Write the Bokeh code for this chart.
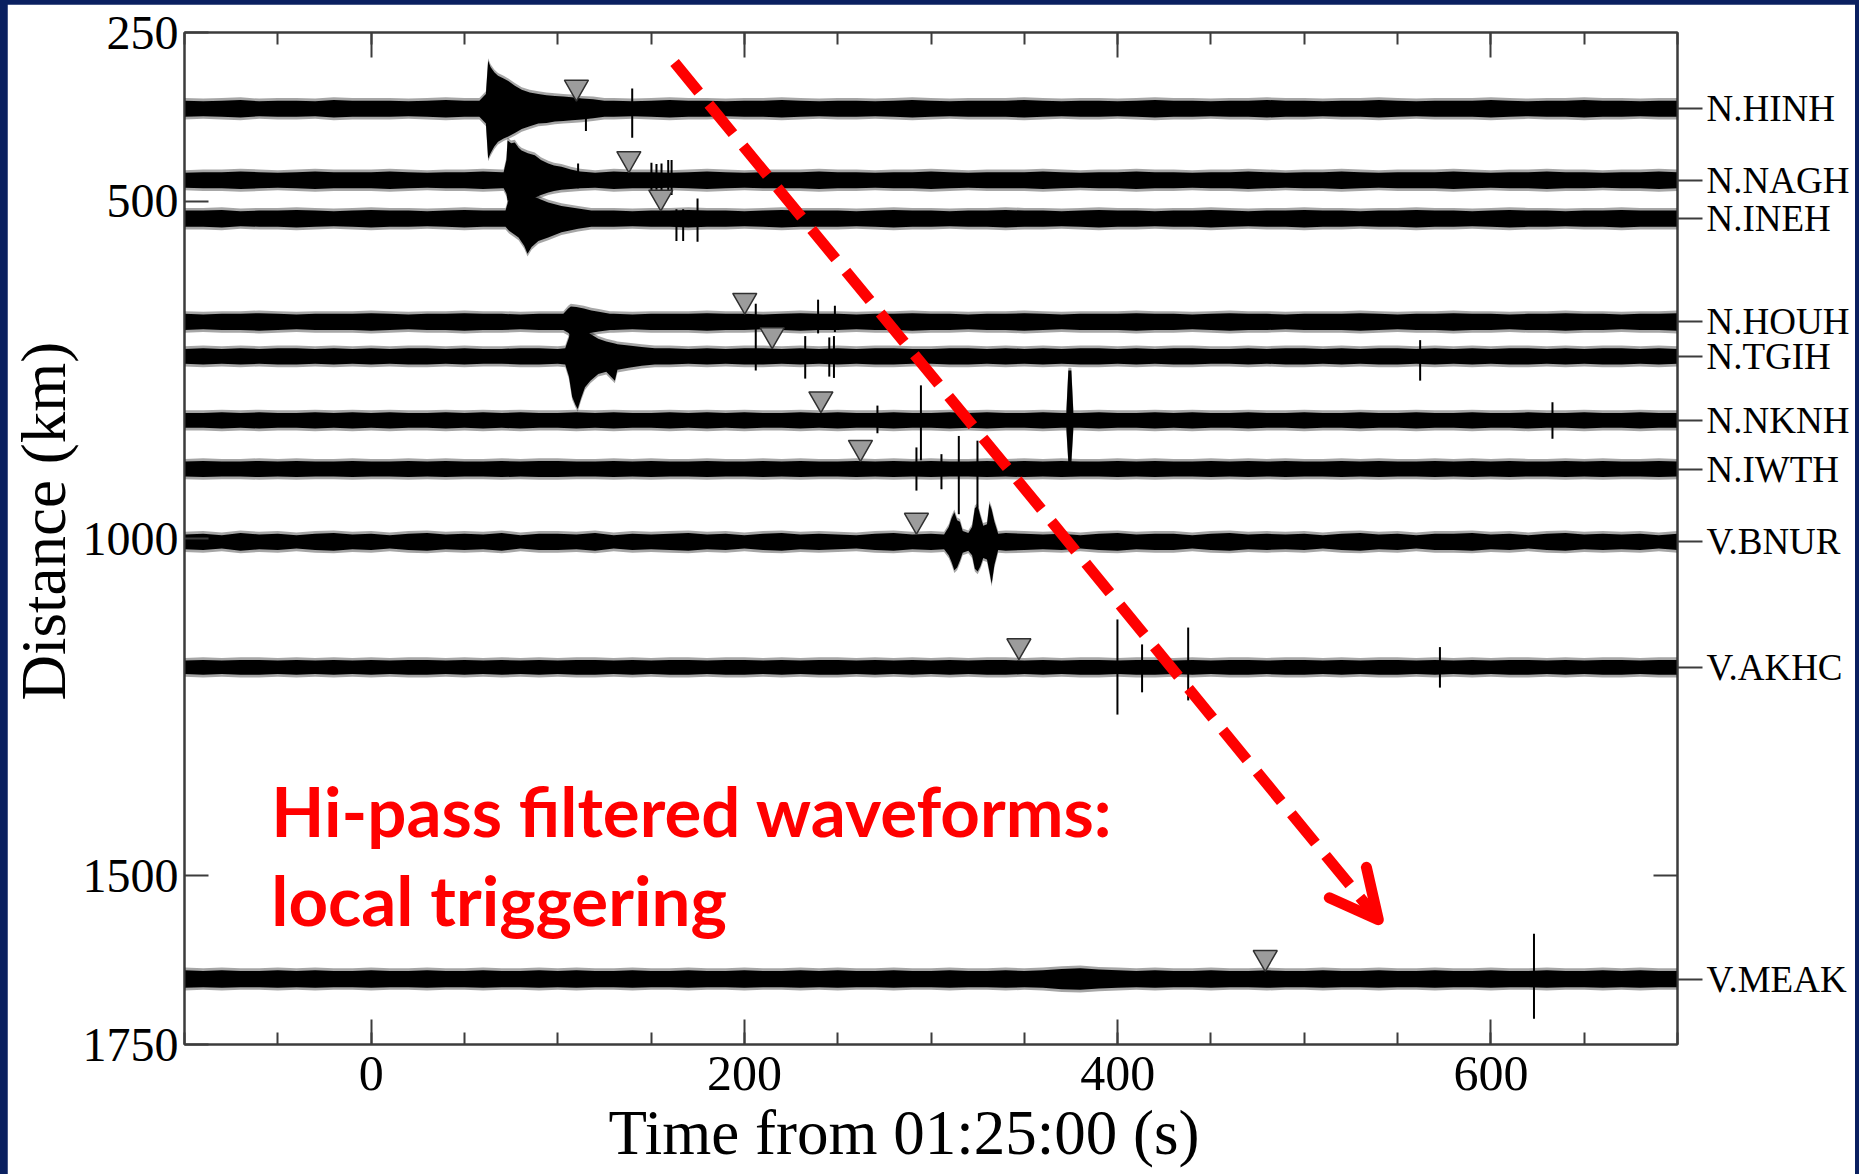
from bokeh.plotting import figure
from bokeh.models import (Range1d, LinearAxis, FixedTicker, SingleIntervalTicker,
                          Arrow, OpenHead, Label, Title, CustomJSTickFormatter)
from bokeh.layouts import column
from bokeh.embed import file_html
from bokeh.resources import INLINE

# ---------------- data ----------------
stations = ["N.HINH", "N.NAGH", "N.INEH", "N.HOUH", "N.TGIH",
            "N.NKNH", "N.IWTH", "V.BNUR", "V.AKHC", "V.MEAK"]
distances = [363, 469, 526, 679, 730, 825, 897, 1005, 1191, 1653]   # km
picks = [110.0, 138.1, 155.2, 200.2, 214.9, 241.0, 262.2, 292.2, 347.1, 479.1]  # s
y_ticks = [250, 500, 1000, 1500, 1750]
right_minor = [1500]

# background noise half-amplitude (km) every 10 s from -100 s to 700 s
noise_t = list(range(-100, 701, 10))
noise_hinh = [12, 11, 12, 13, 11, 12, 12, 11, 13, 12, 12, 12, 11, 12, 13, 12, 11, 12, 12, 13,
              12, 11, 12, 12, 11, 12, 13, 12, 12, 11, 12, 12, 13, 12, 11, 12, 12, 11, 12, 13,
              12, 11, 12, 12, 12, 13, 12, 11, 12, 12, 11, 12, 13, 12, 12, 11, 12, 12, 13, 12,
              12, 11, 12, 12, 13, 12, 11, 12, 12, 12, 13, 12, 11, 12, 12, 13, 12, 12, 11, 12, 12]
noise_nagh = [11, 12, 12, 13, 12, 11, 12, 13, 12, 12, 12, 13, 12, 11, 12, 12, 13, 12, 11, 12,
              12, 12, 11, 13, 12, 12, 11, 12, 13, 12, 11, 12, 12, 12, 13, 12, 12, 11, 12, 12,
              13, 12, 11, 12, 12, 12, 13, 12, 11, 12, 12, 13, 12, 12, 11, 12, 12, 13, 12, 11,
              12, 12, 13, 12, 11, 12, 12, 12, 13, 12, 11, 12, 12, 13, 12, 12, 11, 12, 12, 13, 12]
noise_ineh = [12, 12, 13, 11, 12, 12, 13, 12, 11, 12, 13, 12, 12, 11, 12, 13, 12, 12, 12, 11,
              12, 13, 12, 12, 11, 12, 12, 13, 12, 12, 11, 12, 13, 12, 12, 12, 11, 12, 13, 12,
              12, 11, 12, 12, 13, 12, 12, 11, 12, 13, 12, 12, 11, 12, 12, 13, 12, 11, 12, 12,
              13, 12, 12, 11, 12, 12, 13, 12, 12, 11, 12, 13, 12, 12, 11, 12, 12, 13, 12, 12, 12]
noise_houh = [12, 11, 12, 12, 13, 12, 11, 12, 12, 12, 13, 12, 11, 12, 12, 13, 12, 12, 11, 12,
              12, 12, 13, 12, 11, 12, 12, 12, 13, 12, 12, 11, 12, 13, 12, 12, 11, 12, 12, 13,
              12, 12, 11, 12, 12, 13, 12, 11, 12, 12, 12, 13, 12, 12, 11, 12, 13, 12, 12, 11,
              12, 12, 12, 13, 12, 11, 12, 12, 13, 12, 12, 11, 12, 12, 13, 12, 12, 11, 12, 12, 13]
noise_tgih = [11, 12, 11, 12, 11, 12, 12, 11, 12, 11, 12, 11, 12, 12, 11, 12, 11, 11, 12, 12,
              11, 12, 11, 12, 12, 11, 12, 11, 12, 11, 12, 12, 11, 12, 11, 12, 11, 12, 12, 11,
              11, 12, 12, 11, 12, 11, 12, 11, 12, 12, 11, 12, 11, 12, 12, 11, 11, 12, 11, 12,
              12, 11, 12, 11, 12, 12, 11, 12, 11, 12, 11, 12, 12, 11, 12, 11, 12, 12, 11, 12, 11]
noise_nknh = [11, 11, 12, 11, 12, 11, 11, 12, 11, 12, 11, 12, 11, 11, 12, 11, 12, 11, 12, 11,
              11, 12, 11, 12, 11, 11, 12, 11, 12, 11, 12, 11, 11, 12, 11, 12, 11, 11, 12, 11,
              11, 12, 11, 12, 11, 11, 12, 11, 11, 12, 11, 11, 12, 11, 12, 11, 11, 12, 11, 11,
              12, 11, 11, 12, 11, 11, 12, 11, 11, 12, 11, 11, 12, 11, 11, 12, 11, 11, 12, 11, 11]
noise_iwth = [11, 12, 11, 11, 12, 11, 12, 11, 11, 12, 11, 11, 12, 11, 12, 11, 11, 12, 11, 12,
              12, 11, 11, 12, 11, 12, 11, 11, 12, 11, 11, 12, 11, 12, 11, 11, 12, 11, 12, 11,
              12, 11, 11, 12, 11, 12, 11, 12, 11, 11, 12, 11, 12, 11, 11, 12, 11, 12, 11, 12,
              11, 11, 12, 11, 12, 11, 11, 12, 11, 12, 11, 12, 11, 11, 12, 11, 12, 11, 11, 12, 11]
noise_bnur = [11, 12, 10, 13, 11, 12, 10, 12, 13, 11, 12, 10, 12, 13, 11, 12, 11, 13, 10, 12,
              12, 11, 13, 10, 12, 11, 12, 13, 11, 12, 10, 12, 13, 11, 12, 11, 10, 12, 13, 11,
              12, 11, 12, 10, 13, 12, 11, 12, 10, 12, 13, 11, 12, 12, 10, 12, 13, 11, 12, 11,
              12, 10, 12, 13, 11, 12, 10, 12, 12, 13, 11, 12, 10, 12, 13, 11, 12, 11, 12, 10, 12]
noise_akhc = [10, 11, 10, 11, 11, 10, 11, 10, 11, 10, 11, 10, 11, 11, 10, 11, 10, 11, 10, 11,
              10, 11, 11, 10, 11, 10, 11, 11, 10, 11, 11, 10, 11, 10, 11, 11, 10, 11, 10, 11,
              10, 11, 10, 11, 11, 10, 11, 10, 11, 11, 10, 11, 11, 10, 11, 10, 11, 11, 10, 11,
              11, 10, 11, 10, 11, 11, 10, 11, 10, 11, 10, 11, 11, 10, 11, 10, 11, 11, 10, 11, 11]
noise_meak = [13, 12, 13, 12, 12, 13, 12, 13, 12, 12, 13, 12, 12, 13, 12, 12, 13, 12, 12, 13,
              12, 13, 12, 12, 13, 12, 12, 13, 12, 12, 13, 12, 12, 13, 12, 13, 12, 12, 13, 12,
              12, 13, 12, 12, 13, 12, 13, 15, 16, 14, 13, 12, 13, 12, 12, 13, 12, 12, 13, 12,
              12, 13, 12, 12, 13, 12, 12, 13, 12, 12, 13, 12, 12, 13, 12, 12, 13, 12, 13, 12, 12]

# event envelopes: (time s, amplitude above km, amplitude below km)
arrival_hinh = [(58, 12, 12), (61.5, 22, 22), (62.7, 71, 74), (64, 62, 66), (66, 54, 56),
                (68, 49, 49), (71, 45, 44), (73.5, 41, 41), (77, 34, 36), (80.7, 28, 30),
                (85, 24, 26), (89.6, 22, 22), (94, 20, 21), (98.5, 19, 19), (103, 18, 18),
                (107.5, 17, 17), (113, 15, 16), (119, 14, 14), (125, 12, 12)]
arrival_nagh = [(71, 12, 12), (72.5, 30, 20), (73.1, 59, 30), (75, 55, 30), (77, 56, 30),
                (79, 48, 30), (80.6, 44, 28), (84, 40, 28), (87.7, 37, 26), (91, 30, 22),
                (94.9, 25, 18), (98, 22, 16), (102, 20, 14), (107, 16, 13), (112, 13, 12)]
arrival_ineh = [(72, 12, 12), (73.9, 30, 18), (76, 42, 22), (79, 44, 28), (82, 40, 40),
                (83.8, 38, 52), (86, 34, 42), (89.6, 30, 33), (94.9, 24, 28), (102, 19, 20),
                (110.9, 15, 15), (118, 12, 12)]
arrival_houh = [(103, 12, 12), (105.6, 20, 16), (107, 23, 20), (110, 22, 20), (114, 20, 18),
                (118, 17, 16), (122, 15, 14), (128, 12, 12)]
arrival_tgih = [(104, 12, 12), (106, 28, 30), (107.7, 51, 60), (109.5, 50, 72), (110.7, 46, 78),
                (112.5, 42, 62), (114.6, 39, 46), (117.5, 33, 36), (121.7, 26, 26), (126, 22, 23),
                (130.6, 19, 36), (132, 18, 20), (138, 16, 17), (145, 14, 14), (152, 12, 12)]
burst_nknh = [(372.5, 11, 11), (373.6, 74, 62), (375.2, 74, 62), (376.3, 11, 11)]
bursts_bnur = [(307, 11, 11), (309.5, 22, 20), (311, 35, 30), (312.5, 44, 42), (314, 32, 38),
               (315.5, 30, 28), (317, 16, 16), (320, 13, 13), (322, 22, 20), (323.5, 50, 40),
               (325, 54, 44), (326.5, 38, 36), (328, 24, 24), (330, 26, 26), (331.3, 57, 44),
               (332.5, 48, 62), (334, 30, 34), (336, 12, 12)]

# isolated spikes: (time s, amplitude above km, amplitude below km)
spikes_hinh = [(115.1, 12, 33), (139.9, 30, 43)]
spikes_nagh = [(110.9, 25, 12), (150.2, 26, 16), (152.9, 24, 14), (155.6, 25, 16),
               (159.2, 30, 18), (161.0, 30, 22)]
spikes_ineh = [(163.6, 14, 33), (167.2, 14, 33), (174.9, 30, 34)]
spikes_houh = [(206.1, 27, 72), (239.5, 33, 17), (248.5, 24, 15)]
spikes_tgih = [(232.6, 30, 33), (245.5, 28, 30), (248.0, 30, 32), (562.1, 24, 36)]
spikes_nknh = [(271.3, 22, 19), (294.6, 52, 59), (633.0, 27, 27)]
spikes_iwth = [(292.2, 32, 32), (305.6, 22, 30), (314.9, 49, 67), (324.9, 42, 57)]
spikes_bnur = []
spikes_akhc = [(399.9, 71, 70), (413.1, 34, 37), (437.8, 59, 49), (572.7, 30, 30)]
spikes_meak = [(623.1, 67, 59)]

note_lines = ["Hi-pass filtered waveforms:", "local triggering"]
x_title = "Time from 01:25:00 (s)"
y_title = "Distance (km)"

# ---------------- figure ----------------
NAVY = "#0a2060"
AX = "#3c3c3c"
SERIF = "Liberation Serif"

p = figure(width=1847, height=1170, frame_width=1493, frame_height=1012,
           x_range=Range1d(-100, 700), y_range=Range1d(1750, 250),
           output_backend="svg", toolbar_location=None,
           x_axis_location=None, y_axis_location=None,
           min_border_left=176, min_border_right=178, min_border_top=28, min_border_bottom=130,
           background_fill_color="white", border_fill_color="white")
p.grid.visible = False
p.outline_line_color = AX
p.outline_line_width = 2
p.margin = (4, 5, 0, 7)


def style_axis(ax):
    ax.axis_line_color = AX
    ax.axis_line_width = 2
    ax.major_tick_line_color = AX
    ax.major_tick_line_width = 2
    ax.minor_tick_line_color = AX
    ax.minor_tick_line_width = 2
    ax.major_label_text_font = SERIF
    ax.major_label_text_color = "black"


xb = LinearAxis(ticker=SingleIntervalTicker(interval=200, num_minor_ticks=4))
style_axis(xb)
xb.major_tick_in, xb.major_tick_out = 25, 0
xb.minor_tick_in, xb.minor_tick_out = 12, 0
xb.major_label_text_font_size = "50px"
xb.major_label_standoff = 12
p.add_layout(xb, "below")

xt = LinearAxis(ticker=SingleIntervalTicker(interval=200, num_minor_ticks=4),
                formatter=CustomJSTickFormatter(code="return ''"))
style_axis(xt)
xt.major_tick_in, xt.major_tick_out = 25, 0
xt.minor_tick_in, xt.minor_tick_out = 12, 0
xt.major_label_standoff = 0
p.add_layout(xt, "above")

yl = LinearAxis(ticker=FixedTicker(ticks=y_ticks))
style_axis(yl)
yl.major_tick_in, yl.major_tick_out = 24, 0
yl.minor_tick_in, yl.minor_tick_out = 0, 0
yl.major_label_text_font_size = "48px"
yl.major_label_standoff = 6
p.add_layout(yl, "left")

yr = LinearAxis(ticker=FixedTicker(ticks=distances, minor_ticks=right_minor),
                major_label_overrides={d: s for d, s in zip(distances, stations)})
style_axis(yr)
yr.major_tick_in, yr.major_tick_out = 0, 25
yr.minor_tick_in, yr.minor_tick_out = 24, 0
yr.major_label_text_font_size = "37px"
yr.major_label_standoff = 4
p.add_layout(yr, "right")

# axis titles, offset along the axis as in the reference
p.add_layout(Title(text=x_title, align="left", offset=424, standoff=10, vertical_align="top",
                   text_font=SERIF, text_font_size="63px", text_font_style="normal",
                   text_color="black"), "below")
p.add_layout(Title(text=y_title, align="left", offset=344, standoff=0, vertical_align="middle",
                   text_font=SERIF, text_font_size="63px", text_font_style="normal",
                   text_color="black"), "left")

# ---------------- traces ----------------
noises = [noise_hinh, noise_nagh, noise_ineh, noise_houh, noise_tgih,
          noise_nknh, noise_iwth, noise_bnur, noise_akhc, noise_meak]
windows = [[arrival_hinh], [arrival_nagh], [arrival_ineh], [arrival_houh], [arrival_tgih],
           [burst_nknh], [], [bursts_bnur], [], []]
spikes = [spikes_hinh, spikes_nagh, spikes_ineh, spikes_houh, spikes_tgih,
          spikes_nknh, spikes_iwth, spikes_bnur, spikes_akhc, spikes_meak]

HALO = 4  # km of soft fringe around each trace
for d, noise, wins, spk in zip(distances, noises, windows, spikes):
    pts = []
    for t, a in zip(noise_t, noise):
        if any(w[0][0] <= t <= w[-1][0] for w in wins):
            continue
        pts.append((t, a, a))
    for w in wins:
        pts.extend(w)
    pts.sort()
    xs = [q[0] for q in pts]
    p.varea(x=xs, y1=[d - q[1] - HALO for q in pts], y2=[d + q[2] + HALO for q in pts],
            fill_color="black", fill_alpha=0.35)
    p.varea(x=xs, y1=[d - q[1] for q in pts], y2=[d + q[2] for q in pts],
            fill_color="black")
    if spk:
        p.segment(x0=[s[0] for s in spk], y0=[d - s[1] for s in spk],
                  x1=[s[0] for s in spk], y1=[d + s[2] for s in spk],
                  line_color="black", line_width=2)

TRI_LIFT = 32  # km between trace centre and marker centre
p.scatter(x=picks, y=[d - TRI_LIFT for d in distances], marker="inverted_triangle",
          size=24, fill_color="#9c9c9c", line_color="#303030", line_width=1.5)

# ---------------- annotations ----------------
p.add_layout(Arrow(x_start=162.6, y_start=294.5, x_end=539.7, y_end=1565.0,
                   line_color="#ff0000", line_width=11, line_dash="38 16",
                   end=OpenHead(size=48, line_color="#ff0000", line_width=11,
                                line_cap="round", line_join="round")))

for txt, yb in zip(note_lines, [1403.2, 1535.1]):
    p.add_layout(Label(x=-53.5, y=yb, text=txt, text_font="Lato", text_font_style="bold",
                       text_font_size="69px", text_color="#ff0000",
                       text_align="left", text_baseline="alphabetic"))

layout = column(p, width=1859, height=1174,
                styles={"background-color": NAVY, "overflow": "hidden"})

open("out.html", "w").write(file_html(layout, INLINE))
